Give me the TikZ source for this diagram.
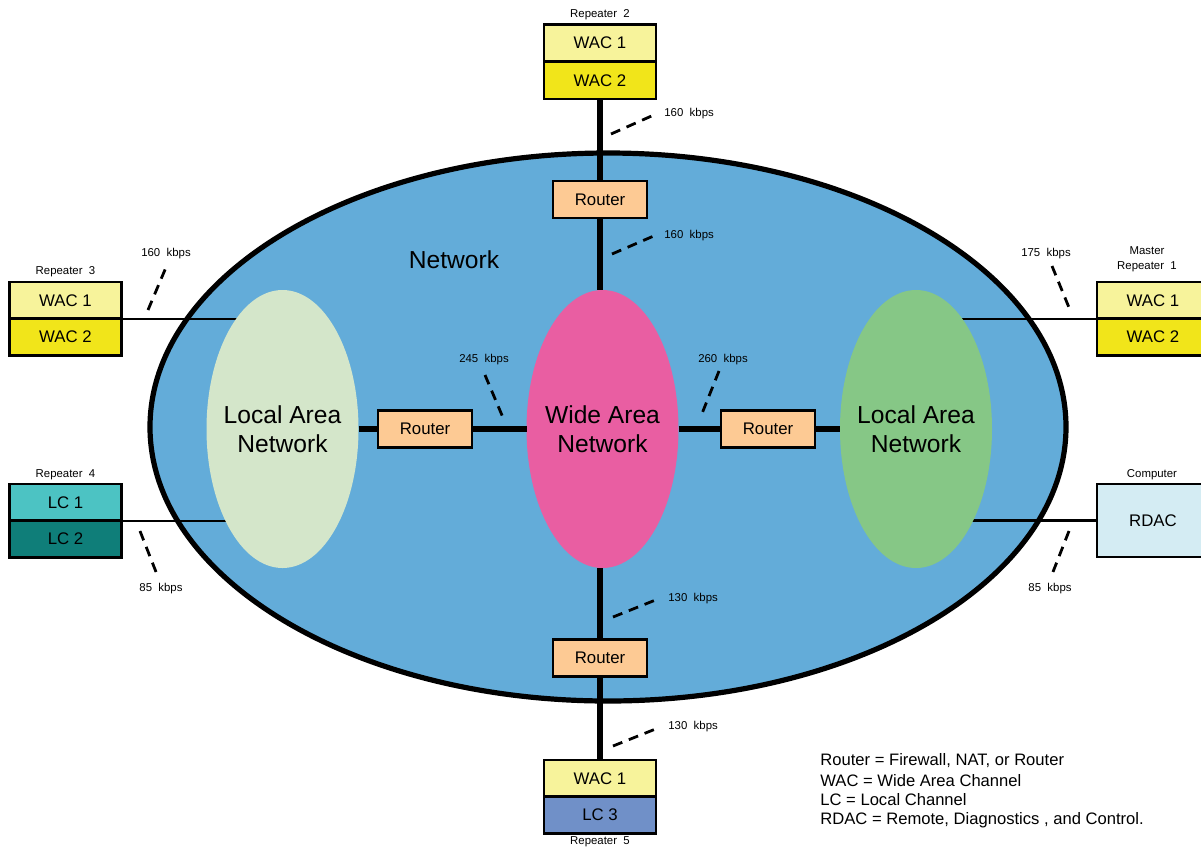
\documentclass[tikz,border=0pt]{standalone}
\usepackage{fontspec}
\setmainfont{Liberation Sans}
\usetikzlibrary{shapes.geometric}
\definecolor{wacone}{HTML}{F7F39B}
\definecolor{wactwo}{HTML}{F1E51A}
\definecolor{lcone}{HTML}{4CC3C3}
\definecolor{lctwo}{HTML}{0F7E79}
\definecolor{lcthree}{HTML}{7090C8}
\definecolor{rdacc}{HTML}{D4ECF3}
\definecolor{routerc}{HTML}{FDCA94}
\definecolor{netblue}{HTML}{63ACD9}
\definecolor{wanpink}{HTML}{E95EA2}
\definecolor{lanpale}{HTML}{D4E6CA}
\definecolor{langreen}{HTML}{86C786}
\pgfdeclarelayer{bgzero}
\pgfdeclarelayer{bgone}
\pgfsetlayers{bgzero,bgone,main}
\begin{document}
\begin{tikzpicture}[x=0.5pt,y=-0.5pt,
  box/.style={draw=black, line width=1.4pt, minimum width=56pt, minimum height=18.5pt, inner sep=0pt, outer sep=0pt, font=\fontsize{8.4}{10}\selectfont},
  router/.style={box, fill=routerc, minimum width=47pt, minimum height=18.5pt},
  blob/.style={ellipse, minimum width=76pt, minimum height=139pt, inner sep=0pt, outer sep=0pt},
  thickln/.style={line width=2.7pt},
  thinln/.style={line width=1.3pt},
  tickln/.style={line width=1.4pt, dash pattern=on 5pt off 3.5pt},
  small/.style={font=\fontsize{5.7}{7.6}\selectfont, inner sep=0pt, align=center},
  big/.style={font=\fontsize{12.3}{14.5}\selectfont, align=center, inner sep=0pt},
  legend/.style={font=\fontsize{8.3}{9}\selectfont, anchor=west, inner sep=0pt}
]
\clip (0,0) rectangle (1201,848);

% network ellipse
\begin{pgfonlayer}{bgzero}
\node[ellipse, draw=black, fill=netblue, line width=2.6pt, minimum width=458pt, minimum height=274pt, inner sep=0pt] (net) at (608,427) {};
\end{pgfonlayer}

% inner ellipses
\node[blob, fill=lanpale] (lanL) at (282.5,429) {};
\node[blob, fill=wanpink] (wan) at (602.5,429) {};
\node[blob, fill=langreen] (lanR) at (916,429) {};
\node[big] (lanLt) at (lanL) {Local Area\\Network};
\node[big] (want) at (wan) {Wide Area\\Network};
\node[big] (lanRt) at (lanR) {Local Area\\Network};
\node[big] (netlbl) at (454,260) {Network};

% routers
\node[router] (rtop) at (600,199.5) {Router};
\node[router] (rleft) at (425,429) {Router};
\node[router] (rright) at (768,429) {Router};
\node[router] (rbot) at (600,658) {Router};

% repeater 2
\node[box, fill=wacone] (r2a) at (600,43) {WAC 1};
\node[box, fill=wactwo] (r2b) at (600,80.5) {WAC 2};
\node[small] (r2l) at (600,15) {Repeater~ 2};
% repeater 3
\node[box, fill=wacone] (r3a) at (65.5,300.5) {WAC 1};
\node[box, fill=wactwo] (r3b) at (65.5,337) {WAC 2};
\node[small] (r3l) at (65.5,272) {Repeater~ 3};
% repeater 4
\node[box, fill=lcone] (r4a) at (65.5,502.5) {LC 1};
\node[box, fill=lctwo] (r4b) at (65.5,539) {LC 2};
\node[small] (r4l) at (65.5,475) {Repeater~ 4};
% master repeater 1
\node[box, fill=wacone] (r1a) at (1153,300.5) {WAC 1};
\node[box, fill=wactwo] (r1b) at (1153,337) {WAC 2};
\node[small] (r1l) at (1147,259) {Master\\Repeater~ 1};
% computer
\node[box, fill=rdacc, minimum height=36.5pt] (rdac) at (1153,520.5) {RDAC};
\node[small] (rdacl) at (1152,475) {Computer};
% repeater 5
\node[box, fill=wacone] (r5a) at (600,778.5) {WAC 1};
\node[box, fill=lcthree] (r5b) at (600,815) {LC 3};
\node[small] (r5l) at (600,842) {Repeater~ 5};

% thin links (under the LAN ellipses)
\begin{pgfonlayer}{bgone}
\draw[thinln] (r3a.south east) -- (lanL.center |- r3a.south east);
\draw[thinln] (r4a.south east) -- (lanL.center |- r4a.south east);
\draw[thinln] (r1a.south west) -- (lanR.center |- r1a.south west);
\draw[thinln] (rdac.west) -- (lanR.center |- rdac.west);
\end{pgfonlayer}

% thick links
\draw[thickln] (r2b.south) -- (rtop.north);
\draw[thickln] (rtop.south) -- (rtop.south |- wan.north);
\draw[thickln] (rbot.north |- wan.south) -- (rbot.north);
\draw[thickln] (rbot.south) -- (r5a.north);
\draw[thickln] (lanL.east) -- (rleft.west);
\draw[thickln] (rleft.east) -- (wan.west);
\draw[thickln] (wan.east) -- (rright.west);
\draw[thickln] (rright.east) -- (lanR.west);

% bandwidth ticks and labels
\draw[tickln] (611,134) -- (656,114);
\node[small, anchor=west] (k1) at (664,114) {160~ kbps};
\draw[tickln] (612,254) -- (656,235);
\node[small, anchor=west] (k2) at (664,236) {160~ kbps};
\draw[tickln] (148,310) -- (167,265);
\node[small] (k3) at (166,254) {160~ kbps};
\draw[tickln] (140,531) -- (158,577);
\node[small] (k4) at (161,589) {85~ kbps};
\draw[tickln] (1052,266) -- (1070,310);
\node[small] (k5) at (1046,254) {175~ kbps};
\draw[tickln] (1069,531) -- (1051,577);
\node[small] (k6) at (1050,589) {85~ kbps};
\draw[tickln] (485,375) -- (504,420);
\node[small] (k7) at (484,360) {245~ kbps};
\draw[tickln] (719,371) -- (701,416);
\node[small] (k8) at (723,360) {260~ kbps};
\draw[tickln] (613,617) -- (658,599);
\node[small, anchor=west] (k9) at (668,599) {130~ kbps};
\draw[tickln] (613,746) -- (658,728);
\node[small, anchor=west] (k10) at (668,727) {130~ kbps};

% legend
\node[legend] (lg1) at (820,761) {Router = Firewall, NAT, or Router};
\node[legend] (lg2) at (820,780.5) {WAC = Wide Area Channel};
\node[legend] (lg3) at (820,800) {LC = Local Channel};
\node[legend] (lg4) at (820,820) {RDAC = Remote, Diagnostics , and Control.};
\end{tikzpicture}
\end{document}
